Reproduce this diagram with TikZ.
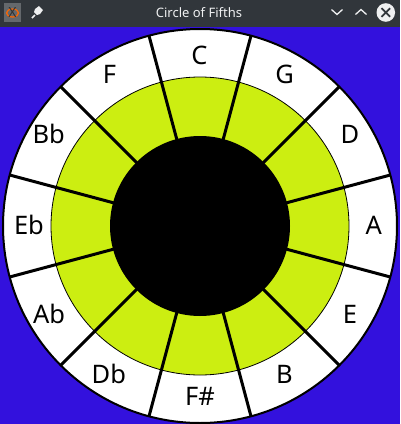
\documentclass[tikz,border=0pt]{standalone}
\usepackage{fontspec}
\setmainfont{Noto Sans}
\usetikzlibrary{calc}
\begin{document}
\begin{tikzpicture}[x=1pt,y=-1pt,
  keylabel/.style={font=\fontsize{25.5}{25.5}\selectfont, text=black, inner sep=0pt, anchor=base},
  spoke/.style={line width=3pt, black}]
\definecolor{bgblue}{RGB}{51,17,221}
\definecolor{lime}{RGB}{204,238,17}
\definecolor{titlebar}{RGB}{49,54,59}
\definecolor{titletext}{RGB}{239,240,241}
\definecolor{iconbg}{RGB}{100,104,108}
\useasboundingbox (0,0) rectangle (400,424);
\fill[bgblue] (0,0) rectangle (400,424);
\begin{scope}
\clip (0,27) rectangle (400,424);
\coordinate (O) at (200,226);
\fill[white] (O) circle (197);
\draw[line width=2pt] (O) circle (197);
\fill[lime] (O) circle (149);
\draw[line width=0.8pt] (O) circle (149);
\fill[black] (O) circle (90);
\foreach \a in {15,45,...,345} {
  \draw[spoke] ($(O)+(\a:88)$) -- ($(O)+(\a:197)$);
}
\end{scope}
\foreach \n/\lab/\x/\y in {c/C/199.5/64, g/G/284.7/83.3, d/D/350/143.3, a/A/373.7/234, e/E/350/323.3, b/B/284.5/383.3, fs/F\#/200/405, db/Db/108.8/383.3, ab/Ab/49/323.3, eb/Eb/29/234, bb/Bb/48.7/143.3, f/F/109.5/83.3} {
  \node[keylabel] (k\n) at (\x,\y) {\lab};
}
% title bar
\fill[titlebar] (0,0) rectangle (400,27);
\node[text=titletext, font=\fontsize{13}{13}\selectfont, inner sep=0pt] (title) at (199,12.5) {Circle of Fifths};
% app icon
\fill[iconbg] (4,3) rectangle (21,22);
\draw[orange!80!red, line width=1.2pt] (12.5,13) ellipse (6 and 4);
\node[font=\fontsize{14}{14}\selectfont, text=black!80, inner sep=0pt] (appx) at (12.5,12.5) {X};
% pin
\draw[titletext, line width=1.5pt] (32,18) -- (35,15);
\fill[titletext] (35,9) -- (39,6) -- (43,10) -- (40,14) -- (37,15) -- (34,12) -- cycle;
% chevrons
\draw[titletext, line width=1.3pt] (331.5,9.5) -- (337,14.5) -- (342.5,9.5);
\draw[titletext, line width=1.3pt] (355.5,14.5) -- (361,9.5) -- (366.5,14.5);
% close button
\fill[titletext] (385.8,12.5) circle (9.3);
\draw[titlebar, line width=1.8pt] (381.5,8.2) -- (390.1,16.8) (390.1,8.2) -- (381.5,16.8);
\end{tikzpicture}
\end{document}
